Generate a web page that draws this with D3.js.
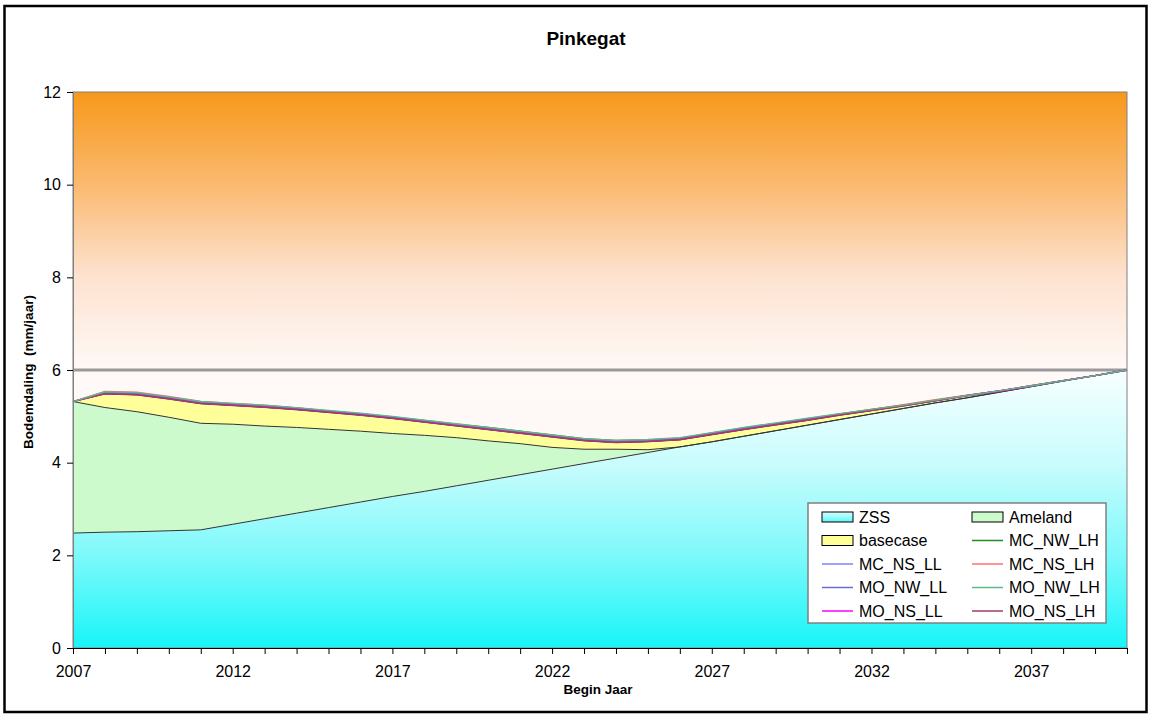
<!DOCTYPE html>
<html>
<head>
<meta charset="utf-8">
<script src="https://cdn.jsdelivr.net/npm/d3@7"></script>
<style>
  body { margin: 0; background: #fff; }
  svg { display: block; font-family: "Liberation Sans", Arial, sans-serif; }
</style>
</head>
<body>
<svg id="chart" width="1151" height="717"></svg>
<script>
// begin jaar
const years = d3.range(2007, 2041);
const yTicks = [0, 2, 4, 6, 8, 10, 12];
const xLabelYears = [2007, 2012, 2017, 2022, 2027, 2032, 2037];
const limit = 6;

// stacked areas (mm/jaar)
const zss = [2.48, 2.50, 2.51, 2.53, 2.55, 2.67, 2.79, 2.91, 3.03, 3.15, 3.27, 3.38, 3.50, 3.62, 3.74, 3.86, 3.98,
  4.10, 4.22, 4.34, 4.45, 4.57, 4.69, 4.81, 4.93, 5.05, 5.17, 5.29, 5.40, 5.52, 5.64, 5.76, 5.88, 6.00];
const ameland = [2.84, 2.69, 2.59, 2.45, 2.30, 2.16, 2.00, 1.85, 1.69, 1.53, 1.36, 1.21, 1.04, 0.85, 0.67, 0.47, 0.31,
  0.19, 0.06, 0, 0, 0, 0, 0, 0, 0, 0, 0, 0, 0, 0, 0, 0, 0];
const basecase = [0, 0.29, 0.36, 0.39, 0.42, 0.40, 0.40, 0.38, 0.36, 0.34, 0.32, 0.28, 0.25, 0.24, 0.22, 0.22, 0.18,
  0.14, 0.17, 0.15, 0.15, 0.14, 0.12, 0.10, 0.09, 0.07, 0.05, 0.04, 0.04, 0.02, 0.01, 0.01, 0, 0];

// scenario totals (lines)
const mcNwLh = [5.32, 5.52, 5.50, 5.41, 5.31, 5.27, 5.23, 5.18, 5.12, 5.06, 4.99, 4.91, 4.83, 4.76, 4.68, 4.60, 4.52,
  4.48, 4.49, 4.53, 4.64, 4.75, 4.85, 4.95, 5.05, 5.15, 5.24, 5.35, 5.45, 5.55, 5.66, 5.77, 5.88, 6.00];
const mcNsLl = [5.32, 5.50, 5.48, 5.39, 5.29, 5.25, 5.21, 5.16, 5.10, 5.04, 4.97, 4.89, 4.81, 4.73, 4.65, 4.57, 4.49,
  4.45, 4.47, 4.51, 4.62, 4.73, 4.83, 4.93, 5.04, 5.14, 5.23, 5.34, 5.45, 5.55, 5.65, 5.77, 5.88, 6.00];
const mcNsLh = [5.32, 5.54, 5.52, 5.43, 5.32, 5.28, 5.24, 5.18, 5.11, 5.05, 4.98, 4.90, 4.82, 4.74, 4.66, 4.58, 4.50,
  4.46, 4.48, 4.52, 4.63, 4.74, 4.84, 4.94, 5.05, 5.15, 5.25, 5.36, 5.46, 5.55, 5.66, 5.77, 5.88, 6.00];
const moNwLl = [5.32, 5.51, 5.49, 5.40, 5.30, 5.26, 5.22, 5.17, 5.11, 5.05, 4.98, 4.90, 4.82, 4.74, 4.66, 4.58, 4.50,
  4.46, 4.48, 4.52, 4.63, 4.74, 4.84, 4.94, 5.04, 5.14, 5.24, 5.34, 5.45, 5.55, 5.65, 5.77, 5.88, 6.00];
const moNwLh = [5.32, 5.53, 5.51, 5.42, 5.32, 5.28, 5.24, 5.19, 5.13, 5.07, 5.00, 4.92, 4.84, 4.76, 4.68, 4.60, 4.52,
  4.48, 4.50, 4.54, 4.65, 4.76, 4.86, 4.96, 5.06, 5.15, 5.24, 5.35, 5.45, 5.55, 5.66, 5.77, 5.88, 6.00];
const moNsLl = [5.32, 5.49, 5.47, 5.38, 5.28, 5.24, 5.20, 5.15, 5.09, 5.03, 4.96, 4.88, 4.80, 4.72, 4.64, 4.56, 4.48,
  4.44, 4.46, 4.50, 4.61, 4.72, 4.82, 4.92, 5.03, 5.13, 5.23, 5.34, 5.44, 5.54, 5.65, 5.77, 5.88, 6.00];
const moNsLh = [5.32, 5.49, 5.47, 5.38, 5.28, 5.24, 5.20, 5.15, 5.09, 5.03, 4.96, 4.88, 4.80, 4.72, 4.64, 4.56, 4.48,
  4.44, 4.46, 4.50, 4.61, 4.72, 4.82, 4.92, 5.03, 5.13, 5.23, 5.34, 5.45, 5.55, 5.66, 5.77, 5.88, 6.00];

const areaKeys = ['ZSS', 'Ameland', 'basecase'];
const areaFill = { ZSS: 'url(#zssGrad)', Ameland: '#ccfacc', basecase: '#ffff99' };

const lineSeries = [
  { name: 'MC_NW_LH', values: mcNwLh, color: '#1f8f1f' },
  { name: 'MC_NS_LL', values: mcNsLl, color: '#8080ff' },
  { name: 'MC_NS_LH', values: mcNsLh, color: '#ff6f6f' },
  { name: 'MO_NW_LL', values: moNwLl, color: '#6a6ad8' },
  { name: 'MO_NS_LL', values: moNsLl, color: '#ff00ff' },
  { name: 'MO_NS_LH', values: moNsLh, color: '#a03c64' },
  { name: 'MO_NW_LH', values: moNwLh, color: '#5fb98c' }
];

const table = years.map((yr, i) => ({ year: yr, ZSS: zss[i], Ameland: ameland[i], basecase: basecase[i] }));

const svg = d3.select('#chart');
const W = 1151, H = 717;
const plot = { left: 73, right: 1127, top: 92, bottom: 648 };

const x = d3.scaleLinear().domain([2007, 2040]).range([plot.left, plot.right]);
const y = d3.scaleLinear().domain([0, 12]).range([plot.bottom, plot.top]);

const defs = svg.append('defs');

const bgGrad = defs.append('linearGradient').attr('id', 'bgGrad')
  .attr('gradientUnits', 'userSpaceOnUse')
  .attr('x1', 0).attr('x2', 0).attr('y1', y(12)).attr('y2', y(0));
[[0, '#f7981a'], [0.17, '#fbba72'], [0.33, '#fde2cf'], [0.5, '#fff9f7'], [1, '#fdf5f2']]
  .forEach(([o, c]) => bgGrad.append('stop').attr('offset', o).attr('stop-color', c));

const zssGrad = defs.append('linearGradient').attr('id', 'zssGrad')
  .attr('gradientUnits', 'userSpaceOnUse')
  .attr('x1', 0).attr('x2', 0).attr('y1', y(0)).attr('y2', y(6));
[[0, '#16f5f8'], [0.33, '#7df9fb'], [0.66, '#c8fcfd'], [1, '#f8ffff']]
  .forEach(([o, c]) => zssGrad.append('stop').attr('offset', o).attr('stop-color', c));

const legGrad = defs.append('linearGradient').attr('id', 'legGrad')
  .attr('x1', 0).attr('x2', 0).attr('y1', 1).attr('y2', 0);
[[0, '#5ff7f9'], [1, '#d8fdfe']]
  .forEach(([o, c]) => legGrad.append('stop').attr('offset', o).attr('stop-color', c));

svg.append('rect').attr('width', W).attr('height', H).attr('fill', '#fff');

// plot background
svg.append('rect')
  .attr('x', plot.left).attr('y', plot.top)
  .attr('width', plot.right - plot.left).attr('height', plot.bottom - plot.top)
  .attr('fill', 'url(#bgGrad)');

// stacked areas
const stack = d3.stack().keys(areaKeys);
const layers = stack(table);

const area = d3.area()
  .x(d => x(d.data.year))
  .y0(d => y(d[0]))
  .y1(d => y(d[1]));

svg.append('g').selectAll('path')
  .data(layers)
  .enter().append('path')
  .attr('d', area)
  .attr('fill', d => areaFill[d.key]);

const topLine = d3.line()
  .x(d => x(d.data.year))
  .y(d => y(d[1]));

svg.append('g').selectAll('path')
  .data(layers)
  .enter().append('path')
  .attr('d', topLine)
  .attr('fill', 'none')
  .attr('stroke', '#333')
  .attr('stroke-width', 1);

// norm line
svg.append('line')
  .attr('x1', plot.left).attr('x2', plot.right)
  .attr('y1', y(limit)).attr('y2', y(limit))
  .attr('stroke', '#9a9a9a').attr('stroke-width', 3);

// scenario lines
const line = d3.line()
  .x((d, i) => x(years[i]))
  .y(d => y(d));

svg.append('g').selectAll('path')
  .data(lineSeries)
  .enter().append('path')
  .attr('d', d => line(d.values))
  .attr('fill', 'none')
  .attr('stroke', d => d.color)
  .attr('stroke-width', 1.3);

// plot border
svg.append('rect')
  .attr('x', plot.left).attr('y', plot.top)
  .attr('width', plot.right - plot.left).attr('height', plot.bottom - plot.top)
  .attr('fill', 'none').attr('stroke', '#808080').attr('stroke-width', 1);

// axes
const yAxis = svg.append('g')
  .attr('transform', `translate(${plot.left},0)`)
  .call(d3.axisLeft(y).tickValues(yTicks).tickSize(6).tickPadding(6).tickFormat(d3.format('d')));
yAxis.select('.domain').attr('stroke', '#808080');

const xAxis = svg.append('g')
  .attr('transform', `translate(0,${plot.bottom})`)
  .call(d3.axisBottom(x).tickValues(years).tickSize(6).tickPadding(12)
    .tickFormat(d => xLabelYears.includes(d) ? String(d) : ''));
xAxis.select('.domain').attr('stroke', '#000');

svg.selectAll('.tick line').attr('stroke', '#000');
svg.selectAll('.tick text')
  .style('font-family', '"Liberation Sans", Arial, sans-serif')
  .style('font-size', '16px')
  .attr('fill', '#000');

// titles
svg.append('text')
  .attr('x', 586).attr('y', 45)
  .attr('text-anchor', 'middle')
  .style('font-size', '19px').style('font-weight', 'bold')
  .text('Pinkegat');

svg.append('text')
  .attr('x', 598).attr('y', 694)
  .attr('text-anchor', 'middle')
  .style('font-size', '13.5px').style('font-weight', 'bold')
  .text('Begin Jaar');

svg.append('text')
  .attr('transform', 'translate(33,372) rotate(-90)')
  .attr('text-anchor', 'middle')
  .style('font-size', '13.5px').style('font-weight', 'bold')
  .style('white-space', 'pre')
  .text('Bodemdaling  (mm/jaar)');

// legend
const legendItems = [
  { name: 'ZSS', type: 'area', fill: 'url(#legGrad)' },
  { name: 'Ameland', type: 'area', fill: '#ccfacc' },
  { name: 'basecase', type: 'area', fill: '#ffff99' },
  ...['MC_NW_LH', 'MC_NS_LL', 'MC_NS_LH', 'MO_NW_LL', 'MO_NW_LH', 'MO_NS_LL', 'MO_NS_LH']
    .map(n => ({ name: n, type: 'line', color: lineSeries.find(s => s.name === n).color }))
];

const legend = svg.append('g').attr('transform', 'translate(808,503)');
legend.append('rect')
  .attr('width', 298).attr('height', 120)
  .attr('fill', '#fff').attr('stroke', '#808080').attr('stroke-width', 1.5);

const item = legend.selectAll('.item')
  .data(legendItems)
  .enter().append('g')
  .attr('class', 'item')
  .attr('transform', (d, i) => `translate(${i % 2 ? 164 : 14},${14 + Math.floor(i / 2) * 23.5})`);

item.filter(d => d.type === 'area').append('rect')
  .attr('x', 0).attr('y', -5).attr('width', 31).attr('height', 10)
  .attr('fill', d => d.fill).attr('stroke', '#000').attr('stroke-width', 1);

item.filter(d => d.type === 'line').append('line')
  .attr('x1', 0).attr('x2', 31).attr('y1', 0).attr('y2', 0)
  .attr('stroke', d => d.color).attr('stroke-width', 1.5);

item.append('text')
  .attr('x', 37).attr('y', 0).attr('dy', '0.36em')
  .style('font-size', '16px')
  .text(d => d.name);

// chart frame
svg.append('rect')
  .attr('x', 4.5).attr('y', 6).attr('width', 1142).attr('height', 706)
  .attr('fill', 'none').attr('stroke', '#000').attr('stroke-width', 2.5);
</script>
</body>
</html>
